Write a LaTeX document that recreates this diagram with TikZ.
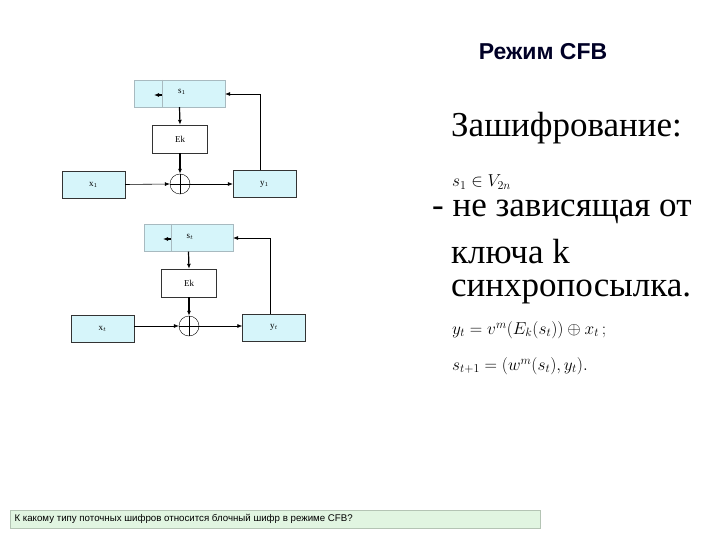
\documentclass[tikz,border=0pt]{standalone}
\usepackage{fontspec}
\setmainfont{Liberation Serif}
\newfontfamily\arialf{Liberation Sans}
\usepackage{amsmath}
\usetikzlibrary{arrows.meta}
\definecolor{reg}{RGB}{214,245,250}
\definecolor{regline}{RGB}{110,140,150}
\definecolor{barg}{RGB}{225,245,225}
\tikzset{
 box/.style={draw=black!80,fill=reg,minimum width=63pt,minimum height=27pt,inner sep=0pt,font=\small},
 ekbox/.style={draw=black!80,fill=white,minimum width=55pt,minimum height=28pt,inner sep=0pt,font=\small},
 regbox/.style={draw=regline!60,fill=reg,minimum width=91pt,minimum height=27pt,inner sep=0pt,font=\small},
 xorc/.style={draw,circle,minimum size=20pt,inner sep=0pt},
 arr/.style={-{Latex[length=5pt,width=4pt]},line width=0.6pt},
 thick arr/.style={-{Latex[length=5pt,width=4pt]},line width=1.2pt},
 big/.style={font=\fontsize{35}{38}\selectfont,anchor=west,inner sep=0pt},
 frm/.style={font=\fontsize{18.5}{20}\selectfont,anchor=west,inner sep=0pt},
}
\begin{document}
\begin{tikzpicture}[x=1pt,y=-1pt]
\useasboundingbox[fill=white] (0,0) rectangle (720,540);
% top block
\node[regbox] (s1) at (179.5,93.5) {};
\draw[regline!60] (162,80) -- (162,107);
\node[font=\small] (s1t) at (182,92) {s$_1$};
\coordinate (s1a) at (162,95);\coordinate (s1b) at (154,95);
\draw[thick arr] (s1a) -- (s1b);
\node[ekbox] (ek1) at (180,139) {Ek};
\node[xorc] (c1) at (180,184) {};
\draw (c1.north) -- (c1.south) (c1.west) -- (c1.east);
\node[box] (x1) at (93.5,184.5) {x$_1$};
\node[box] (y1) at (264.5,184) {y$_1$};
\draw[thick arr] (s1.south) -- (ek1.north);
\draw[thick arr] (ek1.south) -- (c1.north);
\draw[arr] (x1.east) -- (c1.west);
\draw[arr] (c1.east) -- (y1.west);
\coordinate (f1) at (260,94);
\draw[arr] (y1.north -| f1) -- (f1) -- (s1.east |- f1);
% bottom block
\node[regbox,minimum width=89pt] (st) at (188.5,238) {};
\draw[regline!60] (171,224) -- (171,252);
\node[font=\small] (stt) at (190,237) {s$_t$};
\coordinate (sta) at (171,239);\coordinate (stb) at (163,239);
\draw[thick arr] (sta) -- (stb);
\node[ekbox] (ek2) at (189,283) {Ek};
\node[xorc] (c2) at (189,326) {};
\draw (c2.north) -- (c2.south) (c2.west) -- (c2.east);
\node[box] (xt) at (102.5,328.5) {x$_t$};
\node[box] (yt) at (274,327.5) {y$_t$};
\draw[thick arr] (st.south) -- (ek2.north);
\draw[thick arr] (ek2.south) -- (c2.north);
\draw[arr] (xt.east |- c2) -- (c2.west);
\draw[arr] (c2.east) -- (yt.west |- c2);
\coordinate (f2) at (270,238);
\draw[arr] (yt.north -| f2) -- (f2) -- (st.east |- f2);
% right text
\node[font=\arialf\bfseries\fontsize{23}{26}\selectfont,text=black!85!blue] (title) at (543,52) {Режим CFB};
\node[big] (t1) at (451,128) {Зашифрование:};
\node[frm] (m1) at (452,182) {$s_1\in V_{2n}$};
\node[big] (t2) at (432,212) {- не зависящая от};
\node[big] (t3) at (451,252) {ключа k};
\node[big] (t4) at (451,292) {синхропосылка.};
\node[frm] (m2) at (452,330) {$y_t=v^m(E_k(s_t))\oplus x_t\,;$};
\node[frm] (m3) at (452,366) {$s_{t+1}=(w^m(s_t),y_t).$};
% bottom bar
\node[draw=barg!80!black,fill=barg,minimum width=530pt,minimum height=18pt,inner sep=0pt] (bar) at (275,519) {};
\node[font=\arialf\fontsize{9.7}{11}\selectfont,anchor=west] (q) at (11,519) {К какому типу поточных шифров относится блочный шифр в режиме CFB?};
\end{tikzpicture}
\end{document}
